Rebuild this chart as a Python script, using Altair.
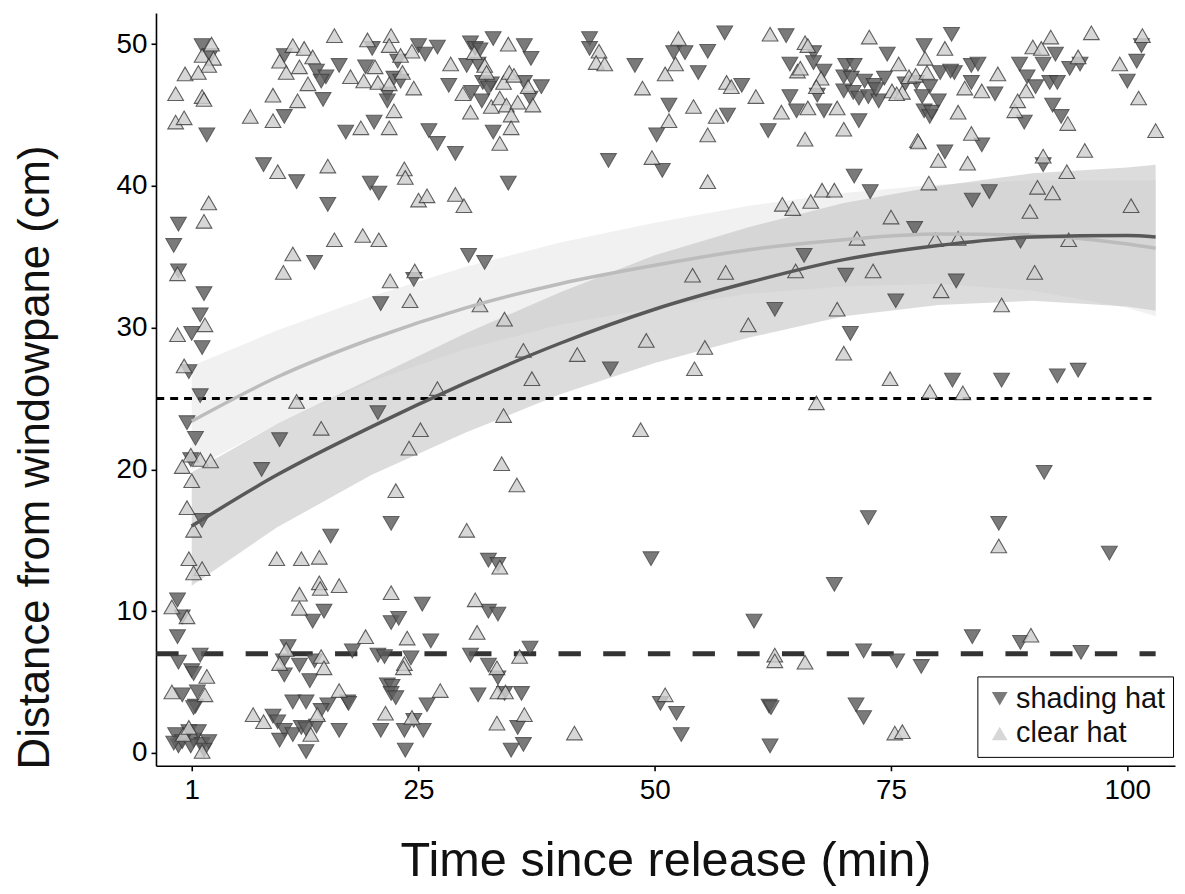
import altair as alt
import pandas as pd

# ---------------- data ----------------
shading_x = [2.1,3.0,2.6,10.8,14.2,15.2,14.7,16.6,14.9,10.8,17.3,8.6,12.1,19.9,20.8,34.5,15.4,-0.4,-0.9,-0.4,2.3,14.0,30.3,32.0,24.5,
             20.1,25.0,27.0,25.7,22.8,19.4,22.4,23.1,21.7,21.7,20.3,26.1,27.0,28.9,28.2,30.5,31.0,31.5,30.1,31.3,31.8,32.7,32.4,32.9,36.2,36.9,36.2,38.0,30.6,31.7,36.8,32.9,
             21.0,1.9,1.0,2.1,0.7,1.9,20.7,10.3,0.5,1.4,0.9,8.4,22.1,15.7,2.1,32.4,33.4,13.8,15.0,25.4,-0.5,0.0,-0.5,22.1,22.9,26.3,32.4,33.4,
             1.9,-0.4,1.0,1.2,11.2,10.7,12.4,14.0,10.8,13.5,18.0,20.7,21.4,24.2,30.5,32.4,33.4,36.8,0.0,1.6,1.4,1.2,17.5,17.6,21.7,22.2,22.1,22.6,
             11.7,13.1,15.4,14.7,9.6,10.1,10.8,10.3,11.7,12.6,13.1,14.2,13.1,16.6,21.0,23.5,24.5,23.6,25.5,25.9,31.3,34.1,35.9,35.5,34.8,36.1,
             -0.7,-0.4,0.7,1.2,1.7,2.1,2.8,2.3,0.0,-0.9,0.9,
             43.1,43.1,47.9,52.0,53.2,55.6,54.6,57.4,59.2,51.5,57.7,50.2,45.1,50.8,63.9,66.8,66.8,64.3,67.9,74.6,78.5,64.3,65.0,67.9,71.6,62.0,71.1,72.8,77.5,65.8,70.2,75.5,
             62.7,45.3,70.7,72.6,49.6,69.0,60.5,72.1,75.6,78.2,50.6,52.3,52.8,62.1,62.3,62.2,71.3,72.1,
             81.5,86.7,92.6,94.8,91.2,86.4,98.1,83.6,88.7,95.1,
             81.4,81.7,83.5,84.2,83.5,86.0,84.6,80.7,85.4,83.6,91.1,92.4,91.1,88.6,89.4,90.3,91.8,92.6,89.1,92.1,93.0,93.9,95.0,101.5,101.0,100.0,88.7,81.9,
             70.2,71.1,70.0,70.8,72.2,73.2,74.3,70.0,71.0,71.6,72.6,73.7,73.4,76.5,77.7,79.1,78.3,80.0,78.5,79.1,79.3,80.2,81.3,67.2]
shading_y = [49.9,49.2,43.6,49.2,48.1,47.7,47.4,48.5,46.1,44.9,43.8,41.5,40.3,40.2,39.5,40.2,38.7,37.3,35.8,34.0,32.4,34.6,35.1,34.6,33.4,
             49.7,49.9,49.8,49.3,48.8,48.4,47.6,47.4,46.5,46.0,44.5,43.9,43.0,42.3,47.1,50.1,49.7,49.6,48.5,48.6,47.3,47.2,46.9,50.4,49.9,49.0,47.3,47.0,46.6,46.0,46.2,43.8,
             31.7,30.9,29.6,28.6,26.9,25.2,24.0,22.1,23.3,22.2,20.7,20.0,16.2,15.3,16.4,13.6,13.3,9.3,10.0,10.5,10.8,9.6,8.2,9.2,9.5,7.9,10.0,9.8,
             6.9,6.4,5.8,5.6,7.5,6.5,6.2,6.5,5.5,5.1,7.2,6.9,6.8,6.7,6.9,6.2,5.3,7.4,4.1,4.3,3.3,3.2,3.6,3.5,4.8,4.7,4.2,3.9,
             3.6,3.6,3.4,3.0,2.6,2.2,1.6,0.9,1.3,1.8,1.7,1.9,0.1,1.6,1.6,1.6,2.3,0.2,1.6,3.4,4.1,4.2,4.2,1.8,0.2,0.6,
             1.3,0.5,1.5,0.9,1.5,0.6,0.8,0.2,0.8,0.7,0.5,
             50.4,49.7,48.5,49.4,49.4,49.5,48.0,50.8,47.1,45.7,45.0,43.6,41.8,41.1,50.6,49.4,48.7,48.6,48.1,49.3,49.9,46.3,45.3,45.3,44.6,43.9,40.7,39.6,37.0,35.1,33.7,31.9,
             31.3,27.1,29.6,16.6,13.7,11.9,9.3,7.2,6.5,6.1,3.5,2.8,1.3,3.3,3.2,0.5,3.4,2.5,
             26.3,26.3,26.6,27.0,19.8,16.2,14.1,8.2,7.8,7.1,
             50.7,48.0,48.5,48.6,47.3,46.5,42.9,42.4,39.6,39.0,41.5,49.3,48.6,48.6,47.7,47.0,47.3,47.3,44.5,45.7,44.9,48.3,48.6,49.9,48.8,47.4,36.1,33.3,
             48.5,48.5,47.7,47.6,47.4,47.1,47.6,46.7,46.6,46.2,46.3,46.0,46.8,47.2,47.3,47.0,46.3,46.0,45.3,44.9,45.2,48.0,48.1,46.4]

clear_x = [3.1,2.1,3.3,2.8,0.3,1.7,-0.7,2.1,2.3,-0.7,0.2,
           16.1,11.7,12.9,13.8,10.3,11.0,12.4,13.3,9.6,12.2,7.2,9.6,
           10.1,15.4,23.5,23.6,25.0,25.9,28.9,29.8,2.8,2.3,-0.5,16.1,19.1,20.8,11.7,10.7,22.0,24.6,
           19.6,22.1,21.9,24.3,23.1,20.4,17.8,19.2,20.7,21.9,23.3,24.5,22.4,18.9,21.9,28.4,30.9,32.0,32.2,34.0,34.6,35.1,34.5,36.6,29.7,32.7,33.6,34.3,35.5,37.1,30.5,34.8,34.8,33.6,
           24.1,31.5,34.1,2.4,-0.5,0.2,12.1,27.0,36.1,37.0,34.0,14.7,25.2,24.0,0.9,0.0,1.9,3.0,1.0,33.8,35.4,22.6,0.5,1.2,30.1,0.7,2.1,1.2,10.0,12.6,14.5,33.6,14.5,14.6,16.6,12.4,22.1,31.0,12.4,-1.1,0.5,23.8,19.4,31.2,
           2.6,11.0,10.3,14.7,15.0,23.5,23.4,33.3,35.7,-1.1,2.4,16.6,27.3,21.5,7.5,8.6,13.6,14.3,24.3,33.4,34.2,33.3,36.2,2.1,0.1,0.7,
           44.1,43.8,44.7,48.7,51.1,52.5,52.2,57.6,58.1,60.7,54.1,51.5,56.5,55.6,49.7,55.6,62.2,65.9,66.2,65.1,67.6,72.7,75.8,78.6,63.4,66.2,69.3,65.9,70.0,77.8,80.0,79.0,67.7,69.0,66.5,63.5,64.6,75.0,71.4,79.7,64.9,73.1,54.0,57.5,80.3,
           69.3,59.9,70.0,41.8,49.1,55.3,54.2,74.9,67.1,79.1,48.5,62.7,62.7,65.9,51.1,41.5,75.4,76.2,
           86.7,82.6,86.4,89.8,
           80.7,86.3,82.8,84.6,82.1,83.5,83.1,77.9,90.5,92.1,89.7,100.4,91.1,93.6,95.5,90.0,91.9,90.9,89.3,88.1,88.4,93.7,94.8,96.2,101.6,99.2,101.2,103.0,82.1,93.8,90.2,
           65.4,75.1,76.2,76.9,77.6,78.8,67.1,75.6]
clear_y = [50.0,49.2,49.0,48.5,47.9,48.0,46.5,46.3,46.1,44.5,44.8,
           50.6,49.9,49.7,49.1,48.8,48.0,48.4,47.2,46.4,46.0,44.9,44.6,
           41.0,41.4,41.2,40.6,39.0,39.3,39.4,38.6,38.8,37.5,33.8,36.2,36.5,36.2,35.2,33.9,33.3,34.0,
           50.3,50.6,49.9,49.5,49.2,48.4,47.7,47.4,47.3,47.2,48.0,46.9,45.3,44.1,44.1,48.6,49.4,48.5,48.0,47.3,48.0,47.8,50.0,47.0,46.5,45.6,46.2,45.7,45.9,45.7,45.2,45.0,44.1,43.0,
           31.9,31.6,30.6,30.2,29.5,27.3,24.8,25.7,28.4,26.4,23.8,22.9,22.8,21.5,21.0,20.2,20.7,20.6,19.2,20.4,18.9,18.5,17.3,15.7,15.7,13.7,13.0,12.7,13.7,13.7,13.8,13.1,12.0,11.6,11.8,11.2,11.3,10.8,10.2,10.3,9.6,8.1,8.2,8.5,
           5.4,7.3,6.3,6.8,6.0,6.3,6.0,6.0,6.8,4.3,4.1,4.4,4.4,2.8,2.7,2.2,1.3,2.7,2.5,4.3,4.3,2.1,2.7,0.1,1.3,1.8,
           49.5,48.7,48.6,46.9,47.9,50.4,48.6,47.3,47.0,46.3,45.6,44.6,44.9,43.6,42.0,40.3,50.7,50.1,49.9,48.1,47.6,50.5,48.6,49.0,45.2,45.5,45.5,43.3,44.0,43.2,41.8,40.2,39.7,39.7,38.9,38.7,38.4,37.8,36.3,36.2,34.0,34.0,33.7,33.9,32.6,
           31.3,30.2,28.2,28.1,29.1,28.6,27.1,26.4,24.7,25.5,22.8,6.9,6.5,6.4,4.1,1.4,1.4,1.5,
           31.6,25.4,14.6,8.3,
           49.7,47.9,46.9,46.7,45.2,43.7,41.6,43.1,39.9,39.5,38.2,38.6,42.1,41.0,42.5,49.8,50.5,49.7,46.7,45.3,46.0,44.4,49.1,50.8,50.6,48.6,46.2,43.9,36.3,36.2,33.9,
           48.3,46.7,46.6,47.7,47.8,48.0,47.0,46.5]

# fitted curves with confidence bands (read at these times)
fit_x = [1, 10, 20, 30, 40, 50, 60, 70, 80, 90, 100, 103]
shading_fit = [16.0, 19.6, 23.0, 26.1, 28.9, 31.3, 33.2, 34.8, 35.8, 36.4, 36.5, 36.4]
shading_lo = [11.8, 15.9, 19.6, 22.6, 25.3, 27.5, 29.3, 30.8, 31.6, 31.9, 31.5, 31.2]
shading_hi = [19.8, 23.2, 26.4, 29.6, 32.5, 35.1, 37.1, 38.8, 40.0, 40.9, 41.3, 41.5]
clear_fit = [23.4, 26.5, 29.2, 31.4, 33.1, 34.4, 35.5, 36.2, 36.6, 36.5, 35.9, 35.6]
clear_lo = [20.0, 23.2, 26.2, 28.5, 30.2, 31.4, 32.4, 32.9, 33.1, 32.6, 31.4, 30.8]
clear_hi = [27.3, 29.8, 32.2, 34.3, 36.0, 37.4, 38.6, 39.5, 40.1, 40.4, 40.4, 40.4]

ref_levels = [25, 7]
ref_start, ref_end = -2.75, 103

groups = ["shading hat", "clear hat"]
x_ticks = [1, 25, 50, 75, 100]
y_ticks = [0, 10, 20, 30, 40, 50]

# ---------------- tables ----------------
pts = pd.concat([
    pd.DataFrame({"t": shading_x, "d": shading_y, "hat": groups[0]}),
    pd.DataFrame({"t": clear_x, "d": clear_y, "hat": groups[1]}),
])
fits = pd.DataFrame({"t": fit_x, "sf": shading_fit, "slo": shading_lo, "shi": shading_hi,
                     "cf": clear_fit, "clo": clear_lo, "chi": clear_hi})
refs = pd.DataFrame({"y": ref_levels, "x": ref_start, "x2": ref_end})

FONT = "Liberation Sans"
xs = alt.Scale(domain=[-2.78, 105.05], nice=False, zero=False)
ys = alt.Scale(domain=[-0.91, 52.2], nice=False, zero=False)

X = alt.X("t:Q", scale=xs, axis=alt.Axis(values=x_ticks, title="Time since release (min)",
                                          titleFontSize=49, titleY=110, titleBaseline="alphabetic",
                                          labelFontSize=28, labelPadding=6))
Y = alt.Y("d:Q", scale=ys, axis=alt.Axis(values=y_ticks, title="Distance from windowpane (cm)",
                                          titleFontSize=44, titleAngle=270, titleX=-108, titleY=447,
                                          titleBaseline="alphabetic", titleAlign="center",
                                          labelFontSize=28, labelPadding=4))

base_f = alt.Chart(fits)
band_clear = base_f.mark_area(color="#e9e9e9", opacity=0.65).encode(
    x=alt.X("t:Q", scale=xs), y=alt.Y("clo:Q", scale=ys), y2="chi:Q")
band_shade = base_f.mark_area(color="#c4c4c4", opacity=0.6).encode(
    x=alt.X("t:Q", scale=xs), y=alt.Y("slo:Q", scale=ys), y2="shi:Q")

rule25 = alt.Chart(refs[refs.y == 25]).mark_rule(color="black", strokeWidth=3, strokeDash=[8, 6]).encode(
    x=alt.X("x:Q", scale=xs), x2="x2:Q", y=alt.Y("y:Q", scale=ys))
rule7 = alt.Chart(refs[refs.y == 7]).mark_rule(color="#333333", strokeWidth=5, strokeDash=[22.5, 22.5]).encode(
    x=alt.X("x:Q", scale=xs), x2="x2:Q", y=alt.Y("y:Q", scale=ys))

leg = alt.Legend(title=None, orient="none", legendX=827, legendY=668,
                 symbolStrokeColor="#3c3c3c", symbolStrokeWidth=1.1)
points = alt.Chart(pts).mark_point(filled=True, size=250, stroke="#3c3c3c", strokeWidth=1.1, opacity=0.82).encode(
    x=X, y=Y,
    color=alt.Color("hat:N", scale=alt.Scale(domain=groups, range=["#5e5e5e", "#cfcfcf"]), legend=leg),
    shape=alt.Shape("hat:N", scale=alt.Scale(domain=groups, range=["triangle-down", "triangle-up"]), legend=leg),
)

line_clear = base_f.mark_line(color="#bcbcbc", strokeWidth=3.5, interpolate="monotone").encode(
    x=alt.X("t:Q", scale=xs), y=alt.Y("cf:Q", scale=ys))
line_shade = base_f.mark_line(color="#585858", strokeWidth=3.5, interpolate="monotone").encode(
    x=alt.X("t:Q", scale=xs), y=alt.Y("sf:Q", scale=ys))

chart = alt.layer(band_clear, band_shade, rule25, rule7, points, line_clear, line_shade).properties(
    width=1026, height=758,
    autosize=alt.AutoSizeParams(type="none"),
    padding={"left": 149, "top": 2, "right": 2, "bottom": 118},
).configure_view(stroke=None).configure_axis(
    grid=False, domainColor="black", domainWidth=1.6, tickColor="black", tickWidth=1.6, tickSize=5,
    labelColor="#000000", titleColor="#111111", labelFont=FONT, titleFont=FONT,
    titleFontWeight="normal",
).configure_legend(
    fillColor="white", strokeColor="black", padding=8, cornerRadius=0,
    labelFont=FONT, labelFontSize=29, labelColor="#111111", labelOffset=2,
    symbolSize=250, symbolOpacity=0.82,
    rowPadding=5,
)

chart.save("out.html", embed_options={"renderer": "svg", "actions": False})
